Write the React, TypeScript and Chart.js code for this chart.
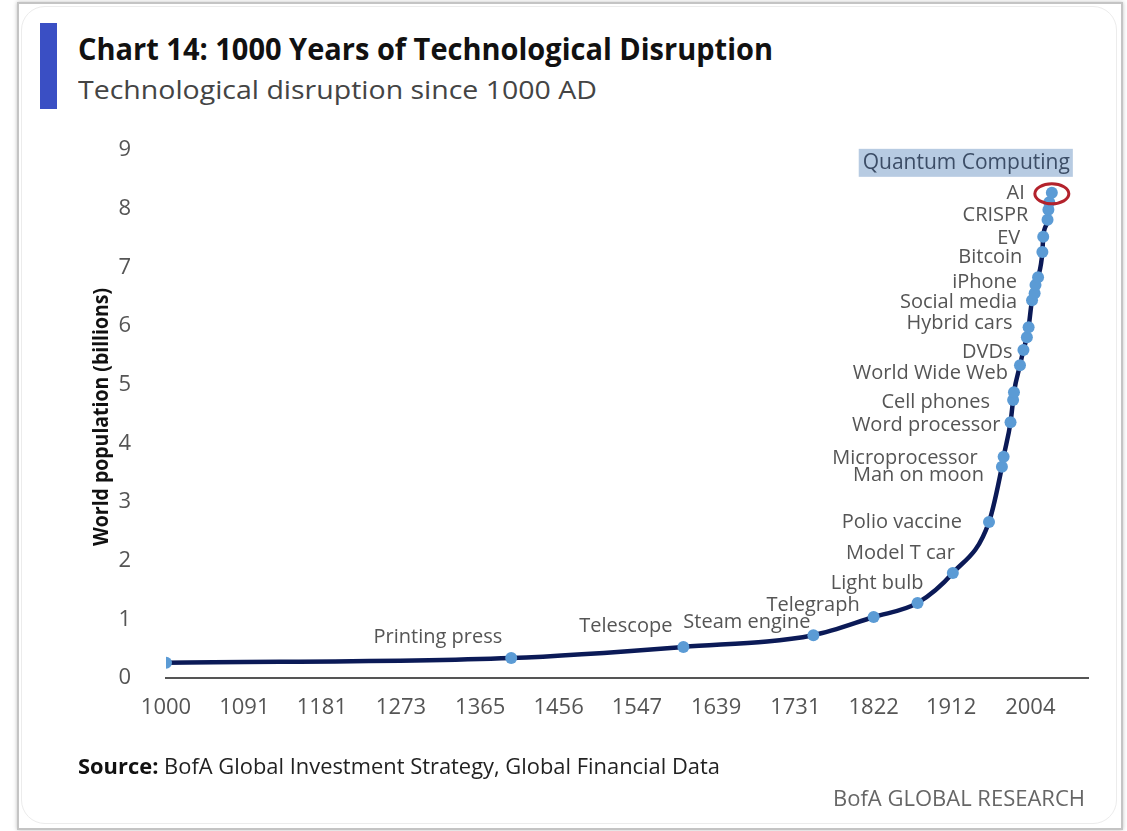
import React, { useEffect, useLayoutEffect, useRef } from "react";
import { Chart, registerables } from "chart.js";

Chart.register(...registerables);

// ---- data ----
const years = [1000, 1401, 1601, 1752, 1822, 1873, 1914, 1956, 1971, 1973, 1981, 1984, 1985, 1992, 1996, 2000, 2002, 2006, 2009, 2010, 2013, 2018, 2019, 2024, 2025, 2026, 2029];
const population = [0.26, 0.34, 0.53, 0.73, 1.04, 1.28, 1.79, 2.66, 3.6, 3.77, 4.36, 4.74, 4.87, 5.33, 5.59, 5.81, 5.98, 6.44, 6.56, 6.7, 6.83, 7.26, 7.52, 7.81, 7.98, 8.11, 8.27];
const milestones = ["", "Printing press", "Telescope", "Steam engine", "Telegraph", "Light bulb", "Model T car", "Polio vaccine", "Man on moon", "Microprocessor", "Word processor", "Cell phones", "", "World Wide Web", "DVDs", "", "Hybrid cars", "Social media", "", "", "iPhone", "Bitcoin", "EV", "", "CRISPR", "", "AI"];
const futureLabel = "Quantum Computing";
const xTickLabels = [1000, 1091, 1181, 1273, 1365, 1456, 1547, 1639, 1731, 1822, 1912, 2004];
const yTickValues = [0, 1, 2, 3, 4, 5, 6, 7, 8, 9];

// label placement (pixel offsets of each label's right edge from its point)
const labelOffsets: Record<string, [number, number]> = {
  "Printing press": [-9, -21],
  "Telescope": [-11, -21],
  "Steam engine": [-3, -13],
  "Telegraph": [-14, -12],
  "Light bulb": [6, -20],
  "Model T car": [2, -20],
  "Polio vaccine": [-27, 0],
  "Man on moon": [-18, 8],
  "Microprocessor": [-26, 1],
  "Word processor": [-10, 3],
  "Cell phones": [-23, 2],
  "World Wide Web": [-12, 8],
  "DVDs": [-11, 2],
  "Hybrid cars": [-16, -4],
  "Social media": [-15, 2],
  "iPhone": [-21, 5],
  "Bitcoin": [-20, 5],
  "EV": [-23, 1],
  "CRISPR": [-20, 5],
  "AI": [-27, 0],
};

const FONT = "'Open Sans', 'Noto Sans', sans-serif";

function FitText({ width, style, children }: { width: number; style?: React.CSSProperties; children: React.ReactNode }) {
  const ref = useRef<HTMLSpanElement>(null);
  useLayoutEffect(() => {
    const el = ref.current;
    if (!el) return;
    el.style.transform = "none";
    const w = el.getBoundingClientRect().width;
    if (w > 0) el.style.transform = `scaleX(${width / w})`;
  }, [width]);
  return (
    <span ref={ref} style={{ display: "inline-block", whiteSpace: "nowrap", transformOrigin: "left center", ...style }}>
      {children}
    </span>
  );
}

const labelsPlugin = {
  id: "milestoneLabels",
  afterDatasetsDraw(chart: any) {
    const ctx = chart.ctx;
    const meta = chart.getDatasetMeta(0);
    ctx.save();
    ctx.font = `20px ${FONT}`;
    ctx.fillStyle = "#555";
    ctx.textAlign = "right";
    ctx.textBaseline = "middle";
    milestones.forEach((m, i) => {
      if (!m) return;
      const pt = meta.data[i];
      const off = labelOffsets[m] || [-15, 0];
      ctx.fillText(m, pt.x + off[0], pt.y + off[1]);
    });
    // AI highlight and future label
    const last = meta.data[meta.data.length - 1];
    ctx.beginPath();
    ctx.ellipse(last.x, last.y + 1, 17, 10, 0, 0, Math.PI * 2);
    ctx.strokeStyle = "#b3222c";
    ctx.lineWidth = 3;
    ctx.stroke();

    ctx.font = `21px ${FONT}`;
    const tw = ctx.measureText(futureLabel).width;
    const right = last.x + 18;
    const cy = last.y - 30;
    ctx.fillStyle = "#b7cbe2";
    ctx.fillRect(right - tw - 4, cy - 14, tw + 7, 28);
    ctx.fillStyle = "#3c4d66";
    ctx.fillText(futureLabel, right, cy);

    // y axis title
    const ca = chart.chartArea;
    const t = "World population (billions)";
    ctx.font = `bold 21px ${FONT}`;
    const w = ctx.measureText(t).width;
    ctx.translate(ca.left - 64, (ca.top + ca.bottom) / 2 + 3);
    ctx.rotate(-Math.PI / 2);
    ctx.scale(258 / w, 1);
    ctx.textAlign = "center";
    ctx.fillStyle = "#111";
    ctx.fillText(t, 0, 0);
    ctx.restore();
  },
};

export default function App() {
  const canvasRef = useRef<HTMLCanvasElement>(null);

  useEffect(() => {
    if (!canvasRef.current) return;
    const chart = new Chart(canvasRef.current, {
      type: "line",
      data: {
        datasets: [
          {
            data: years.map((x, i) => ({ x, y: population[i] })),
            borderColor: "#0b1a57",
            borderWidth: 4.5,
            cubicInterpolationMode: "monotone",
            pointRadius: 6,
            pointBackgroundColor: "#5b9bd5",
            pointBorderWidth: 0,
          },
        ],
      },
      options: {
        animation: false,
        responsive: false,
        layout: { padding: { top: 150, right: 39, left: 0, bottom: 0 } },
        plugins: { legend: { display: false }, tooltip: { enabled: false }, title: { display: false } },
        scales: {
          x: {
            type: "linear",
            min: 1000,
            max: 2071,
            afterBuildTicks: (s: any) => {
              s.ticks = xTickLabels.map((v) => ({ value: v }));
            },
            afterFit: (s: any) => {
              s.height = 153;
            },
            grid: { display: false },
            border: { display: true, color: "#555", width: 2 },
            ticks: {
              autoSkip: false,
              maxRotation: 0,
              padding: 9,
              color: "#555",
              font: { size: 22, family: FONT },
              callback: (v: any) => String(v),
            },
          },
          y: {
            min: 0,
            max: 9,
            afterBuildTicks: (s: any) => {
              s.ticks = yTickValues.map((v) => ({ value: v }));
            },
            afterFit: (s: any) => {
              s.width = 166;
            },
            grid: { display: false },
            border: { display: false },
            ticks: {
              padding: 27,
              color: "#555",
              font: { size: 22, family: FONT },
            },
          },
        },
      },
      plugins: [labelsPlugin],
    });
    return () => chart.destroy();
  }, []);

  return (
    <div style={{ position: "absolute", left: 0, top: 0, width: 1127, height: 831, background: "#fff", overflow: "hidden" }}>
      <div
        style={{
          position: "absolute",
          left: 17,
          top: 2,
          width: 1102,
          height: 824,
          border: "2px solid #c4c4c4",
          boxShadow: "0 0 4px rgba(0,0,0,0.25)",
          background: "#fff",
        }}
      />
      <div
        style={{
          position: "absolute",
          left: 21,
          top: 6,
          width: 1094,
          height: 816,
          border: "1px solid #ececec",
          borderRadius: 24,
        }}
      />
      <div style={{ position: "absolute", left: 40, top: 23, width: 17, height: 86, background: "#3a4fc4" }} />
      <div style={{ position: "absolute", left: 78, top: 31, height: 36, lineHeight: "36px", fontFamily: FONT, fontWeight: 700, fontSize: 30, color: "#111" }}>
        <FitText width={695}>Chart 14: 1000 Years of Technological Disruption</FitText>
      </div>
      <div style={{ position: "absolute", left: 78, top: 72, height: 34, lineHeight: "34px", fontFamily: FONT, fontSize: 26, color: "#444" }}>
        <FitText width={519}>Technological disruption since 1000 AD</FitText>
      </div>
      <canvas ref={canvasRef} width={1127} height={831} style={{ position: "absolute", left: 0, top: 0, width: 1127, height: 831 }} />
      <div style={{ position: "absolute", left: 78, top: 752, height: 28, lineHeight: "28px", fontFamily: FONT, fontSize: 21, color: "#222" }}>
        <FitText width={642}>
          <b style={{ color: "#111" }}>Source:</b> BofA Global Investment Strategy, Global Financial Data
        </FitText>
      </div>
      <div style={{ position: "absolute", left: 833, top: 783, height: 28, lineHeight: "28px", fontFamily: FONT, fontSize: 22, color: "#666" }}>
        <FitText width={252}>BofA GLOBAL RESEARCH</FitText>
      </div>
    </div>
  );
}
